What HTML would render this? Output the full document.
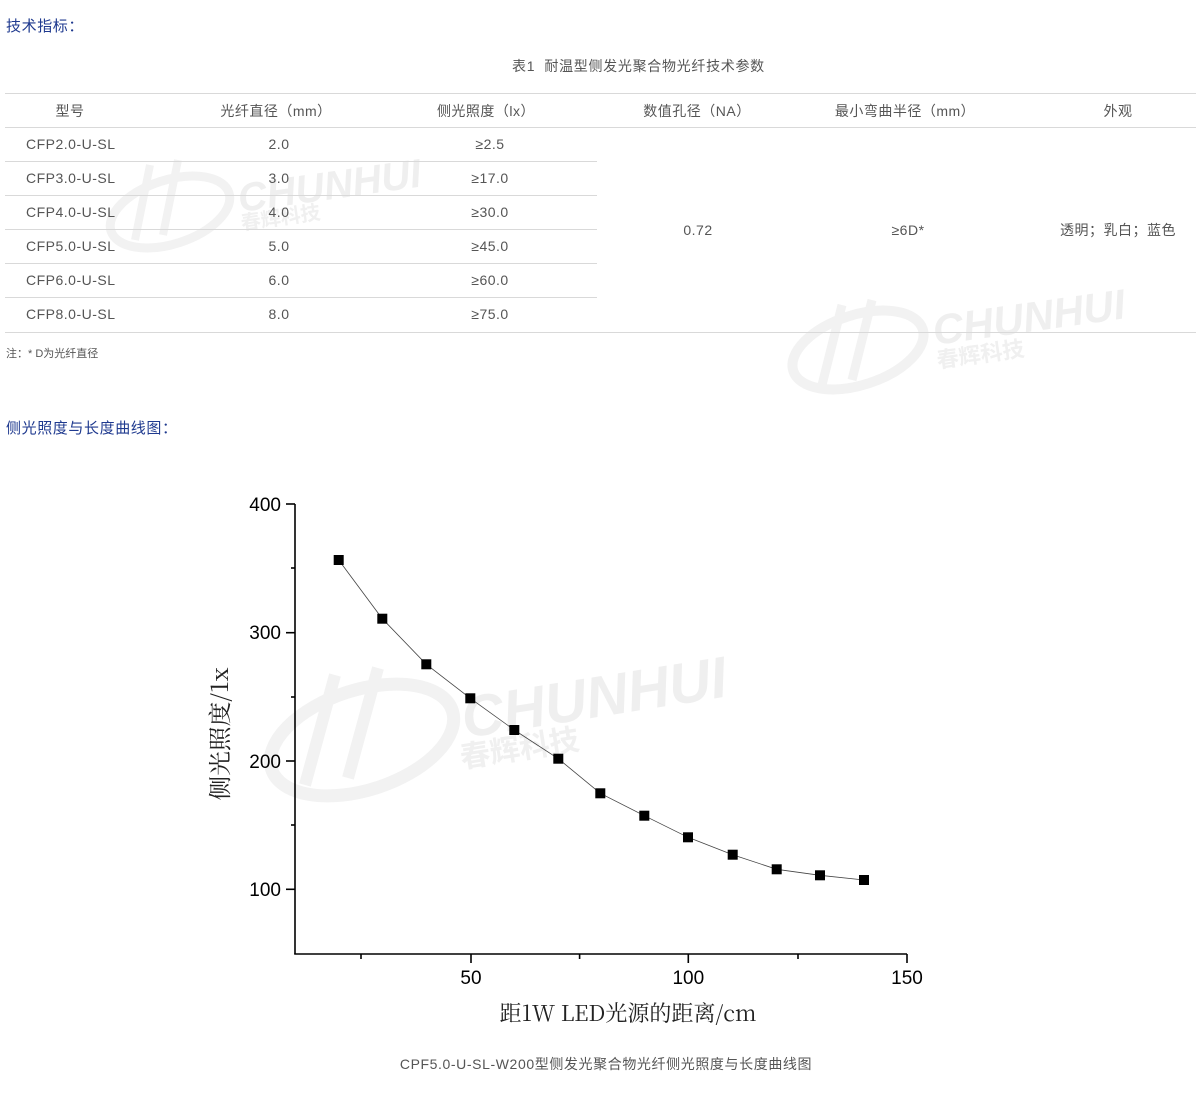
<!DOCTYPE html>
<html><head><meta charset="utf-8">
<style>
html,body{margin:0;padding:0;background:#fff;}
body{width:1201px;height:1103px;position:relative;overflow:hidden;font-family:"Liberation Sans","Noto Sans CJK SC",sans-serif;color:#555;}
.a{position:absolute;white-space:nowrap;line-height:20px;}
.h{color:#1f3a8f;font-size:15px;letter-spacing:0.6px;}
.t{font-size:14px;color:#555;letter-spacing:0.5px;}
.c{text-align:center;}
.ln{position:absolute;height:1px;background:#d9d9d9;}
</style></head><body>

<!-- watermarks -->
<svg class="a" style="left:0;top:0" width="1201" height="1103">
  <g fill="none" stroke="#f2f2f2">
    <ellipse cx="170" cy="212" rx="62" ry="32" transform="rotate(-18 170 212)" stroke-width="9"/>
    <path d="M150 165 L135 240 M178 160 L163 235" stroke-width="8"/>
    <ellipse cx="858" cy="350" rx="68" ry="35" transform="rotate(-18 858 350)" stroke-width="10"/>
    <path d="M842 305 L822 385 M872 300 L852 380" stroke-width="9"/>
    <ellipse cx="362" cy="740" rx="95" ry="50" transform="rotate(-18 362 740)" stroke-width="13"/>
    <path d="M335 675 L305 785 M378 668 L348 778" stroke-width="12"/>
  </g>
  <g font-family="Liberation Sans, sans-serif" font-weight="bold" font-style="italic" fill="#efefef">
    <text x="240" y="212" font-size="40" transform="rotate(-8 240 212)">CHUNHUI</text>
    <text x="935" y="345" font-size="42" transform="rotate(-8 935 345)">CHUNHUI</text>
    <text x="465" y="738" font-size="58" transform="rotate(-9 465 738)">CHUNHUI</text>
  </g>
  <g font-family="Noto Sans CJK SC, sans-serif" font-weight="bold" fill="#f0f0f0">
    <text x="242" y="230" font-size="20" transform="rotate(-8 242 230)">春辉科技</text>
    <text x="938" y="368" font-size="22" transform="rotate(-8 938 368)">春辉科技</text>
    <text x="462" y="768" font-size="30" transform="rotate(-9 462 768)">春辉科技</text>
  </g>
</svg>

<div class="a h" style="left:6px;top:17px;">技术指标：</div>
<div class="a t" style="left:512px;top:56px;letter-spacing:0.7px;">表1&nbsp; 耐温型侧发光聚合物光纤技术参数</div>

<!-- table lines -->
<div class="ln" style="left:5px;width:1191px;top:93px;"></div>
<div class="ln" style="left:5px;width:1191px;top:127px;"></div>
<div class="ln" style="left:5px;width:592px;top:161px;"></div>
<div class="ln" style="left:5px;width:592px;top:195px;"></div>
<div class="ln" style="left:5px;width:592px;top:229px;"></div>
<div class="ln" style="left:5px;width:592px;top:263px;"></div>
<div class="ln" style="left:5px;width:592px;top:297px;"></div>
<div class="ln" style="left:5px;width:1191px;top:332px;"></div>

<!-- header -->
<div class="a t c" style="left:20px;width:100px;top:101px;">型号</div>
<div class="a t c" style="left:176px;width:200px;top:101px;">光纤直径（mm）</div>
<div class="a t c" style="left:386px;width:200px;top:101px;">侧光照度（lx）</div>
<div class="a t c" style="left:597px;width:200px;top:101px;">数值孔径（NA）</div>
<div class="a t c" style="left:805px;width:200px;top:101px;">最小弯曲半径（mm）</div>
<div class="a t c" style="left:1018px;width:200px;top:101px;">外观</div>

<!-- rows -->
<div class="a t" style="left:26px;top:134px;">CFP2.0-U-SL</div>
<div class="a t" style="left:26px;top:168px;">CFP3.0-U-SL</div>
<div class="a t" style="left:26px;top:202px;">CFP4.0-U-SL</div>
<div class="a t" style="left:26px;top:236px;">CFP5.0-U-SL</div>
<div class="a t" style="left:26px;top:270px;">CFP6.0-U-SL</div>
<div class="a t" style="left:26px;top:304px;">CFP8.0-U-SL</div>

<div class="a t c" style="left:229px;width:100px;top:134px;">2.0</div>
<div class="a t c" style="left:229px;width:100px;top:168px;">3.0</div>
<div class="a t c" style="left:229px;width:100px;top:202px;">4.0</div>
<div class="a t c" style="left:229px;width:100px;top:236px;">5.0</div>
<div class="a t c" style="left:229px;width:100px;top:270px;">6.0</div>
<div class="a t c" style="left:229px;width:100px;top:304px;">8.0</div>

<div class="a t c" style="left:440px;width:100px;top:134px;">≥2.5</div>
<div class="a t c" style="left:440px;width:100px;top:168px;">≥17.0</div>
<div class="a t c" style="left:440px;width:100px;top:202px;">≥30.0</div>
<div class="a t c" style="left:440px;width:100px;top:236px;">≥45.0</div>
<div class="a t c" style="left:440px;width:100px;top:270px;">≥60.0</div>
<div class="a t c" style="left:440px;width:100px;top:304px;">≥75.0</div>

<div class="a t c" style="left:648px;width:100px;top:220px;">0.72</div>
<div class="a t c" style="left:858px;width:100px;top:220px;">≥6D*</div>
<div class="a t c" style="left:1043px;width:150px;top:220px;">透明；乳白；蓝色</div>

<div class="a" style="left:6px;top:344px;font-size:11px;color:#555;">注：* D为光纤直径</div>
<div class="a h" style="left:6px;top:419px;">侧光照度与长度曲线图：</div>

<!-- chart -->
<svg class="a" style="left:0;top:0" width="1201" height="1103">
  <g stroke="#000" stroke-width="1.6" fill="none">
    <line x1="295" y1="504" x2="295" y2="954"/>
    <line x1="294.2" y1="954" x2="907" y2="954"/>
    <line x1="286" y1="504" x2="295" y2="504"/>
    <line x1="286" y1="632.7" x2="295" y2="632.7"/>
    <line x1="286" y1="761" x2="295" y2="761"/>
    <line x1="286" y1="889.3" x2="295" y2="889.3"/>
    <line x1="291" y1="568" x2="295" y2="568"/>
    <line x1="291" y1="697" x2="295" y2="697"/>
    <line x1="291" y1="825" x2="295" y2="825"/>
    <line x1="471" y1="954" x2="471" y2="963"/>
    <line x1="688.3" y1="954" x2="688.3" y2="963"/>
    <line x1="907" y1="954" x2="907" y2="963"/>
    <line x1="361" y1="954" x2="361" y2="959"/>
    <line x1="579.6" y1="954" x2="579.6" y2="959"/>
    <line x1="798" y1="954" x2="798" y2="959"/>
  </g>
  <g font-family="Liberation Sans, Arial, sans-serif" font-size="19" fill="#000">
    <text x="281" y="511" text-anchor="end">400</text>
    <text x="281" y="639" text-anchor="end">300</text>
    <text x="281" y="768" text-anchor="end">200</text>
    <text x="281" y="896" text-anchor="end">100</text>
    <text x="471" y="984" text-anchor="middle">50</text>
    <text x="688.3" y="984" text-anchor="middle">100</text>
    <text x="907" y="984" text-anchor="middle">150</text>
  </g>
  <polyline fill="none" stroke="#444" stroke-width="0.8"
    points="338.7,560 382.3,618.7 426.3,664.3 470.3,698.3 514.3,730 558.3,758.7 600.3,793.3 644.3,815.7 688,837.3 732.7,854.7 776.7,869.3 820,875.3 864,880"/>
  <g fill="#000">
    <rect x="333.7" y="555" width="10" height="10"/>
    <rect x="377.3" y="613.7" width="10" height="10"/>
    <rect x="421.3" y="659.3" width="10" height="10"/>
    <rect x="465.3" y="693.3" width="10" height="10"/>
    <rect x="509.3" y="725" width="10" height="10"/>
    <rect x="553.3" y="753.7" width="10" height="10"/>
    <rect x="595.3" y="788.3" width="10" height="10"/>
    <rect x="639.3" y="810.7" width="10" height="10"/>
    <rect x="683" y="832.3" width="10" height="10"/>
    <rect x="727.7" y="849.7" width="10" height="10"/>
    <rect x="771.7" y="864.3" width="10" height="10"/>
    <rect x="815" y="870.3" width="10" height="10"/>
    <rect x="859" y="875" width="10" height="10"/>
  </g>
  <text x="0" y="0" transform="translate(228,734) rotate(-90)" text-anchor="middle" textLength="133" lengthAdjust="spacingAndGlyphs" font-family="Noto Serif CJK SC, Liberation Serif, serif" font-size="23" fill="#222">侧光照度/1x</text>
  <text x="628" y="1021" text-anchor="middle" textLength="257" lengthAdjust="spacingAndGlyphs" font-family="Noto Serif CJK SC, Liberation Serif, serif" font-size="22" fill="#222">距1W LED光源的距离/cm</text>
</svg>

<div class="a c" style="left:306px;width:600px;top:1054px;font-size:14px;color:#555;letter-spacing:0.6px;">CPF5.0-U-SL-W200型侧发光聚合物光纤侧光照度与长度曲线图</div>

</body></html>
